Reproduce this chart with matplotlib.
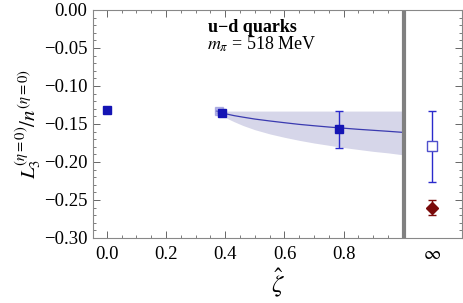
import matplotlib.pyplot as plt

plt.rcParams['font.family'] = ['Liberation Serif', 'DejaVu Serif']
plt.rcParams['mathtext.fontset'] = 'stix'

# lattice points (zeta_hat, value, error)
pts_x = [0.0, 0.39, 0.783]
pts_y = [-0.131, -0.135, -0.157]
pts_err = [0.0, 0.002, 0.0245]

# faint point just left of 0.39
faint_x = [0.378]
faint_y = [-0.133]
faint_err = [0.002]

# extrapolated values at infinity
inf_pos = 1.10
inf_y = -0.179
inf_err_lo = 0.047
inf_err_hi = 0.0465
diam_y = -0.260
diam_err = 0.010

# fit curve and band
fit_x = [0.37, 0.38, 0.40, 0.43, 0.46, 0.50, 0.55, 0.60, 0.65, 0.70, 0.75, 0.80, 0.85, 0.90, 0.95, 1.00]
fit_mid = [-0.133, -0.1345, -0.1365, -0.139, -0.141, -0.1435, -0.1460, -0.1483, -0.1505,
           -0.1523, -0.1540, -0.1555, -0.1570, -0.1583, -0.1596, -0.1610]
fit_low = [-0.134, -0.137, -0.1415, -0.147, -0.152, -0.1575, -0.1630, -0.1675, -0.1715,
           -0.1750, -0.1780, -0.1810, -0.1835, -0.1860, -0.1880, -0.1905]
fit_high = [-0.133] * len(fit_x)

xticks = [0.0, 0.2, 0.4, 0.6, 0.8, inf_pos]
xticklabels = ['0.0', '0.2', '0.4', '0.6', '0.8', r'$\infty$']
yticks = [0.00, -0.05, -0.10, -0.15, -0.20, -0.25, -0.30]

blue = '#1414b4'
fig = plt.figure(figsize=(4.63, 3.03), dpi=100)
ax = fig.add_axes([93 / 463, 1 - 238 / 303, 369 / 463, 228 / 303])

ax.fill_between(fit_x, fit_low, fit_high, color='#d6d6e9', lw=0)
ax.plot(fit_x, fit_mid, color='#3a3ab0', lw=0.9)

ax.errorbar(faint_x, faint_y, yerr=faint_err, fmt='s', ms=6, color='#8a8ad8',
            capsize=2, lw=0.8, alpha=0.6)
ax.errorbar(pts_x, pts_y, yerr=pts_err, fmt='s', ms=6, color=blue,
            ecolor='#2a2acc', capsize=3, lw=1.0)
ax.errorbar([inf_pos], [inf_y], yerr=[[inf_err_lo], [inf_err_hi]], fmt='s', ms=6.5,
            mfc='white', mec='#5050cc', color='#2a2acc', capsize=3, lw=1.0)
ax.errorbar([inf_pos], [diam_y], yerr=diam_err, fmt='D', ms=6.5,
            color='#7a0a0a', capsize=3, lw=1.0)

ax.axvline(1.003, color='#808080', lw=3)

ax.set_xlim(-0.047, 1.2)
ax.set_ylim(-0.30, 0.00)
ax.set_xticks(xticks)
ax.set_xticklabels(xticklabels, fontsize=13.5)
ax.set_xticks([i * 0.05 for i in range(20) if i % 4 != 0], minor=True)
ax.set_yticks(yticks)
ax.set_yticklabels(['0.00', '\u22120.05', '\u22120.10', '\u22120.15', '\u22120.20',
                    '\u22120.25', '\u22120.30'], fontsize=13.5)
ax.set_yticks([-i * 0.01 for i in range(31) if i % 5 != 0], minor=True)
ax.tick_params(which='both', direction='in', top=True, right=True, color='#666666')
ax.tick_params(which='major', length=5, width=0.7)
ax.tick_params(which='minor', length=2.5, width=0.6)
ax.tick_params(axis='x', which='major', pad=6)
ax.tick_params(axis='y', which='major', pad=4)
for t in ax.xaxis.get_major_ticks()[-1:]:
    t.tick1line.set_visible(False)
    t.tick2line.set_visible(False)
for s in ax.spines.values():
    s.set_color('#888888')
    s.set_linewidth(0.8)

ax.set_xlabel(r'$\hat{\zeta}$', fontsize=18, labelpad=2)
ax.set_ylabel(r'$L_3^{(\eta=0)}/n^{(\eta=0)}$', fontsize=15, labelpad=1)

ax.text(0.341, -0.0285, 'u\u2212d quarks', fontsize=13, fontweight='bold', ha='left', va='baseline')
ax.text(0.338, -0.0525, r'$m_\pi$ = 518 MeV', fontsize=13, ha='left', va='baseline')

fig.savefig('out.png', dpi=100)
